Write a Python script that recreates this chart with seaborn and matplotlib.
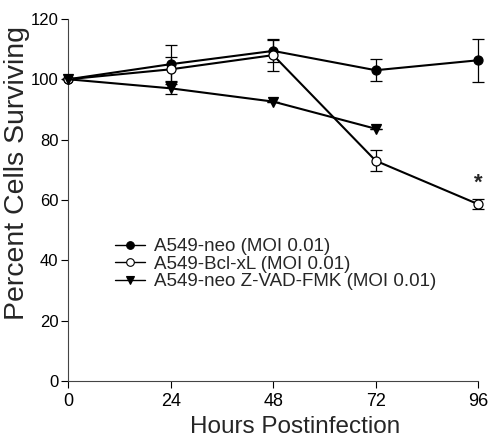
import numpy as np
import pandas as pd
import matplotlib
matplotlib.use("Agg")
import matplotlib.pyplot as plt
import seaborn as sns

# === DATA ===
hours = [0, 24, 48, 72, 96]
neo = [100, 105.0, 109.4, 103.0, 106.3]
neo_err = [0, 6.5, 3.6, 3.6, 7.2]
bcl = [100, 103.3, 108.0, 73.0, 58.6]
bcl_err = [0, 4.0, 5.3, 3.4, 1.6]
zvad_hours = [0, 24, 48, 72]
zvad = [100, 97.0, 92.6, 83.6]
zvad_err = [0, 2.0, 0, 0]

labels = ["A549-neo (MOI 0.01)", "A549-Bcl-xL (MOI 0.01)", "A549-neo Z-VAD-FMK (MOI 0.01)"]

df = pd.concat([
    pd.DataFrame({"hours": hours, "pct": neo, "err": neo_err, "group": labels[0]}),
    pd.DataFrame({"hours": hours, "pct": bcl, "err": bcl_err, "group": labels[1]}),
    pd.DataFrame({"hours": zvad_hours, "pct": zvad, "err": zvad_err, "group": labels[2]}),
], ignore_index=True)

# === STYLE ===
sns.set_style("ticks")
plt.rcParams["font.family"] = ["Liberation Sans", "DejaVu Sans"]

fig = plt.figure(figsize=(4.94, 4.4), dpi=100)
ax = fig.add_axes([0.138, 0.134, 0.830, 0.823])

face = {labels[0]: "black", labels[1]: "white", labels[2]: "black"}
marks = {labels[0]: "o", labels[1]: "o", labels[2]: "v"}

# error bars first, underneath
for g, sub in df.groupby("group", sort=False):
    ax.errorbar(sub["hours"], sub["pct"], yerr=sub["err"], fmt="none",
                ecolor="black", elinewidth=0.9, capsize=4, capthick=0.9,
                zorder=1, clip_on=False)

n_before = len(ax.lines)
sns.lineplot(data=df, x="hours", y="pct", hue="group", style="group",
             markers=marks, dashes=False, palette=["black"] * 3, linewidth=1.5,
             markersize=6.5, markeredgecolor="black", ax=ax, legend=False,
             zorder=3, clip_on=False)

# marker faces (open circle for Bcl-xL)
for line, g in zip(ax.lines[n_before:], labels):
    line.set_markerfacecolor(face[g])
    line.set_markeredgewidth(0.9)

ax.text(96, 65.5, "*", ha="center", va="center", fontsize=16, fontweight="bold")

# legend
handles = [plt.Line2D([], [], color="black", lw=1.0, marker=marks[g],
                      mfc=face[g], mec="black", ms=5.5, mew=0.8) for g in labels]
ax.legend(handles, labels, loc="upper left", bbox_to_anchor=(0.095, 0.415),
          frameon=False, fontsize=13.5, handlelength=1.6, handletextpad=0.5,
          labelspacing=0.02, borderaxespad=0)

ax.set_xlim(0, 96)
ax.set_ylim(0, 120)
ax.set_xticks(hours)
ax.set_yticks(range(0, 121, 20))
ax.tick_params(axis="both", labelsize=13, direction="out", length=5, width=0.8, colors="black")
ax.tick_params(axis="y", labelsize=12, pad=2)
ax.set_xlabel("Hours Postinfection", fontsize=17.5)
ax.set_ylabel("Percent Cells Surviving", fontsize=20.5)
ax.xaxis.set_label_coords(0.554, -0.097)
ax.yaxis.set_label_coords(-0.094, 0.575)
for s in ["left", "bottom"]:
    ax.spines[s].set_linewidth(0.8)
    ax.spines[s].set_color("#444444")
sns.despine(ax=ax)

fig.savefig("out.png", dpi=100)
